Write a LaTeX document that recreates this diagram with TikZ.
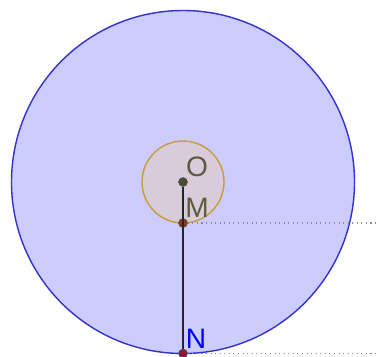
\documentclass[tikz,border=0pt]{standalone}
\usepackage{fontspec}
\setsansfont{Liberation Sans}
\usetikzlibrary{positioning}
\definecolor{cdisk}{HTML}{CCCCFF}
\definecolor{cdiskline}{HTML}{3333CC}
\definecolor{csmall}{HTML}{D8CCDA}
\definecolor{csmallline}{HTML}{C89B3C}
\definecolor{cptO}{HTML}{4D4D2E}
\definecolor{cptM}{HTML}{8B3A1A}
\definecolor{cptN}{HTML}{8B1A3A}
\definecolor{clabel}{HTML}{5C5C3D}
\definecolor{cgrey}{HTML}{8A8A8A}
\tikzset{
  every picture/.style={font=\sffamily, line width=0.6pt},
  pt/.style={circle, fill=#1, draw=black!70, line width=0.4pt, inner sep=0pt, minimum size=5pt},
  lbl/.style={font=\sffamily\fontsize{16}{16}\selectfont, text=#1, inner sep=0pt},
  lbl/.default=clabel,
  guide/.style={draw=cgrey, dotted, line width=0.6pt},
}
\begin{document}
\begin{tikzpicture}[x=0.02cm, y=-0.02cm]
  \useasboundingbox (0,0) rectangle (377,356);
  % the two discs
  \draw[fill=cdisk, draw=cdiskline, line width=0.8pt] (183,182) circle[radius=171.5];
  \draw[fill=csmall, draw=csmallline, line width=0.8pt] (183,182) circle[radius=41];
  % points
  \node[pt=cptO] (O) at (183,182) {};
  \node[pt=cptM] (M) at (183,223) {};
  \node[pt=cptN] (N) at (183,353.5) {};
  \coordinate (mr) at (377,223);
  \coordinate (nr) at (377,353.5);
  \draw[guide] (M) -- (mr);
  \draw[guide] (N) -- (nr);
  \draw[black!85, line width=0.8pt] (O) -- (N);
  % labels
  \node[lbl] (lO) at (197,167) {O};
  \node[lbl] (lM) at (197,208) {M};
  \node[lbl=blue] (lN) at (196,339) {N};
\end{tikzpicture}
\end{document}
